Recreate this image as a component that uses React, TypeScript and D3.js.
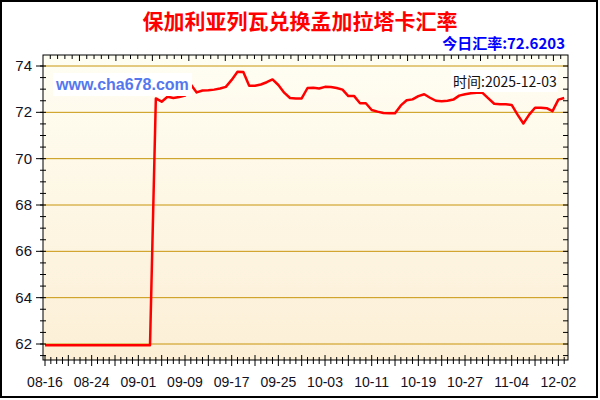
import React from "react";
import * as d3 from "d3";

// ---- data ----
const xTickLabels = ["08-16", "08-24", "09-01", "09-09", "09-17", "09-25", "10-03", "10-11", "10-19", "10-27", "11-04", "12-02"];
const xTickIndex = [0, 8, 16, 24, 32, 40, 48, 56, 64, 72, 80, 88];
const rates = [
  61.95, 61.95, 61.95, 61.95, 61.95, 61.95, 61.95, 61.95, 61.95, 61.95,
  61.95, 61.95, 61.95, 61.95, 61.95, 61.95, 61.95, 61.95, 61.95, 72.6,
  72.46, 72.67, 72.62, 72.66, 72.72, 73.2, 72.86, 72.94, 72.95, 72.98,
  73.03, 73.1, 73.4, 73.75, 73.74, 73.15, 73.15, 73.2, 73.3, 73.42,
  73.18, 72.85, 72.62, 72.6, 72.6, 73.05, 73.06, 73.03, 73.1, 73.09,
  73.05, 72.98, 72.7, 72.7, 72.39, 72.39, 72.1, 72.03, 71.97, 71.96,
  71.96, 72.3, 72.52, 72.56, 72.7, 72.78, 72.63, 72.5, 72.48, 72.5,
  72.55, 72.72, 72.78, 72.82, 72.85, 72.84, 72.6, 72.37, 72.35, 72.35,
  72.32, 71.9, 71.52, 71.9, 72.2, 72.2, 72.18, 72.05, 72.55, 72.62,
];
const yTicks = [62, 64, 66, 68, 70, 72, 74];
const titleText = "保加利亚列瓦兑换孟加拉塔卡汇率";
const todayText = "今日汇率:72.6203";
const timeText = "时间:2025-12-03";
const siteText = "www.cha678.com";

const W = 600, H = 400;
const L = 43, R = 568, T = 55, B = 360;

export default function App() {
  const x = d3.scaleLinear().domain([0, 89]).range([45, 564.2]);
  const y = d3.scaleLinear().domain([62, 74]).range([344, 66]);
  const xTop = d3.scaleLinear().domain([0, 72]).range([L, R]);

  const line = d3.line<number>().x((_, i) => x(i)).y((d) => y(d));

  const minorY: number[] = d3.range(61.5, 74.01, 0.5).filter((v) => y(v) >= T && y(v) <= B);
  const bottomTicks = d3.range(0, 90);
  const topTicks = d3.range(1, 72);

  return (
    <svg width={W} height={H} style={{ position: "absolute", left: 0, top: 0, background: "#fff" }}
      fontFamily="Arial, 'Liberation Sans', sans-serif">
      <defs>
        <linearGradient id="bg" x1="0" y1="0" x2="0" y2="1">
          <stop offset="0" stopColor="#FFFEF3" />
          <stop offset="1" stopColor="#FCEFD6" />
        </linearGradient>
      </defs>
      <rect x={0} y={0} width={W} height={H} fill="#fff" />
      <rect x={1} y={1} width={596} height={396} fill="none" stroke="#000" strokeWidth={2} />
      <text x={300} y={29} textAnchor="middle" fill="#FF0000" fontSize={21} fontWeight="bold"
        fontFamily="'Noto Sans CJK SC', sans-serif">{titleText}</text>
      <text x={565} y={49} textAnchor="end" fill="#0000FF" fontSize={15} fontWeight="bold"
        fontFamily="'Noto Sans CJK SC', sans-serif">{todayText}</text>

      <rect x={L} y={T} width={R - L} height={B - T} fill="url(#bg)" />
      {yTicks.map((v) => (
        <line key={"g" + v} x1={L} x2={R} y1={y(v)} y2={y(v)} stroke="#C8960C" strokeWidth={1} />
      ))}

      <path d={line(rates) || ""} fill="none" stroke="#FF0000" strokeWidth={2.5} strokeLinejoin="round" />

      <rect x={53} y={73} width={139} height={23} fill="#FFFFFF" />
      <text x={56} y={90} fill="#5577EE" fontSize={16} fontWeight="bold">{siteText}</text>
      <rect x={451} y={70} width={107} height={22} fill="#FFFFFF" />
      <text x={453} y={87} fill="#111" fontSize={14} fontFamily="'Noto Sans CJK SC', sans-serif">{timeText}</text>

      <rect x={L} y={T} width={R - L} height={B - T} fill="none" stroke="#000" strokeWidth={1} />

      {/* y-axis ticks */}
      {minorY.map((v) => (
        <g key={"my" + v}>
          <line x1={L - 3} x2={L + 3} y1={y(v)} y2={y(v)} stroke="#000" />
          <line x1={R - 5} x2={R} y1={y(v)} y2={y(v)} stroke="#000" />
        </g>
      ))}
      {yTicks.map((v) => (
        <g key={"ty" + v}>
          <line x1={L - 7} x2={L} y1={y(v)} y2={y(v)} stroke="#000" />
          <text x={32} y={y(v) + 5} textAnchor="end" fontSize={15} fill="#112">{v}</text>
        </g>
      ))}

      {/* bottom ticks */}
      {bottomTicks.map((i) => (
        <line key={"bx" + i} x1={x(i)} x2={x(i)} y1={i % 4 === 0 ? 355 : 357} y2={i % 4 === 0 ? 366 : 364} stroke="#000" />
      ))}
      {xTickLabels.map((lab, k) => (
        <text key={lab} x={x(xTickIndex[k])} y={387} textAnchor="middle" fontSize={14} fill="#112">{lab}</text>
      ))}

      {/* top ticks */}
      {topTicks.map((i) => (
        <line key={"tx" + i} x1={xTop(i)} x2={xTop(i)} y1={T} y2={T + (i % 5 === 0 ? 6 : 4)} stroke="#000" />
      ))}
    </svg>
  );
}
